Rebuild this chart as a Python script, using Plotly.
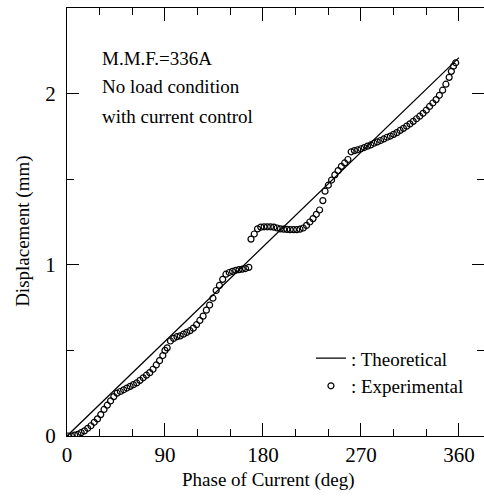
import plotly.graph_objects as go

# Theoretical line
theo_phase = [0, 360]
theo_disp = [0.0, 2.21]

# Experimental points
exp_phase = [1, 4, 7, 10, 13, 16, 19, 22, 25, 28, 31, 34, 37, 40, 43, 46, 49, 52, 55, 58,
             61, 64, 67, 70, 73, 76, 79, 82, 85, 88, 90, 92, 95, 98, 101, 104, 107, 110, 113, 116,
             119, 122, 125, 128, 131, 134, 137, 140, 143, 146, 149, 152, 155, 158, 161, 164, 167,
             169, 172, 175, 178, 181, 184, 187, 190, 193, 196, 199, 202, 205, 208, 211, 214, 217,
             220, 223, 226, 229, 232, 235, 237, 240, 243, 246, 249, 252, 255, 258, 261, 264, 267,
             270, 273, 276, 279, 282, 285, 288, 291, 294, 297, 300, 303, 306, 309, 312, 315, 318,
             321, 324, 327, 330, 333, 336, 339, 342, 345, 348, 351, 353, 355, 357]
exp_disp = [0.00, 0.00, 0.005, 0.01, 0.02, 0.03, 0.045, 0.06, 0.08, 0.10, 0.125, 0.155, 0.18,
            0.205, 0.23, 0.25, 0.26, 0.27, 0.28, 0.29, 0.30, 0.31, 0.325, 0.34, 0.355, 0.37, 0.39,
            0.415, 0.44, 0.47, 0.50, 0.515, 0.555, 0.57, 0.58, 0.585, 0.595, 0.605, 0.615, 0.63,
            0.65, 0.675, 0.70, 0.735, 0.765, 0.805, 0.85, 0.88, 0.915, 0.945, 0.955, 0.962, 0.968,
            0.972, 0.975, 0.978, 0.985,
            1.15, 1.18, 1.21, 1.22, 1.222, 1.222, 1.222, 1.22, 1.215, 1.21, 1.208, 1.207, 1.205,
            1.205, 1.205, 1.208, 1.215, 1.23, 1.25, 1.27, 1.295, 1.32, 1.375, 1.43, 1.465, 1.495,
            1.525, 1.55, 1.575, 1.595, 1.615, 1.66, 1.667, 1.672, 1.678, 1.685, 1.693, 1.70, 1.71,
            1.718, 1.726, 1.735, 1.745, 1.752, 1.762, 1.772, 1.785, 1.797, 1.81, 1.823, 1.838,
            1.853, 1.868, 1.885, 1.903, 1.925, 1.945, 1.965, 1.99, 2.02, 2.055, 2.095, 2.13, 2.16,
            2.18]

x_ticks = [0, 90, 180, 270, 360]
y_ticks = [0, 1, 2]
notes = ["M.M.F.=336A", "No load condition", "with current control"]

FONT = "Liberation Serif, Times New Roman, serif"

fig = go.Figure()
fig.add_trace(go.Scatter(x=theo_phase, y=theo_disp, mode="lines", name=": Theoretical",
                         line=dict(color="black", width=1.3)))
fig.add_trace(go.Scatter(x=exp_phase, y=exp_disp, mode="markers", name=": Experimental",
                         marker=dict(symbol="circle-open", size=6, color="black",
                                     line=dict(width=1.2, color="black"))))

fig.update_layout(
    width=484, height=497,
    margin=dict(l=67, r=0, t=8, b=61, autoexpand=False),
    paper_bgcolor="white", plot_bgcolor="white",
    font=dict(family=FONT, size=20, color="black"),
    showlegend=True,
    legend=dict(x=0.585, y=0.226, xanchor="left", yanchor="top",
                bgcolor="rgba(0,0,0,0)", borderwidth=0,
                font=dict(family=FONT, size=19), itemwidth=30,
                tracegroupgap=0),
)

fig.update_xaxes(range=[0, 383], tickvals=x_ticks, ticktext=[str(v) for v in x_ticks],
                 ticks="inside", ticklen=13, tickwidth=1.2, tickcolor="black",
                 showline=True, linecolor="black", linewidth=1.3, mirror="ticks",
                 showgrid=False, zeroline=False, ticklabelstandoff=0, automargin=False,
                 tickfont=dict(family=FONT, size=21),
                 minor=dict(dtick=30, ticks="inside", ticklen=7, tickcolor="black", tickwidth=1, showgrid=False))
fig.update_yaxes(range=[0, 2.5], tickvals=y_ticks, ticktext=[str(v) for v in y_ticks],
                 ticks="inside", ticklen=12, tickwidth=1.2, tickcolor="black",
                 showline=True, linecolor="black", linewidth=1.3, mirror="ticks",
                 showgrid=False, zeroline=False, ticklabelstandoff=6, automargin=False,
                 tickfont=dict(family=FONT, size=21),
                 minor=dict(dtick=0.5, ticks="inside", ticklen=7, tickcolor="black", tickwidth=1, showgrid=False))

# Axis titles
fig.add_annotation(text="Phase of Current (deg)", xref="paper", yref="paper",
                   x=0.484, y=-0.102, showarrow=False, xanchor="center", yanchor="middle",
                   font=dict(family=FONT, size=19))
fig.add_annotation(text="Displacement (mm)", xref="paper", yref="paper",
                   x=-0.1055, y=0.477, showarrow=False, xanchor="center", yanchor="middle",
                   textangle=-90, font=dict(family=FONT, size=19))

# Condition notes
for txt, yy in zip(notes, [0.882, 0.817, 0.747]):
    fig.add_annotation(text=txt, xref="paper", yref="paper", x=0.079, y=yy,
                       showarrow=False, xanchor="left", yanchor="middle",
                       font=dict(family=FONT, size=19))

fig.write_html("out.html", config={"displayModeBar": False},
               post_script="document.body.style.margin='0';document.body.style.overflow='hidden';")
